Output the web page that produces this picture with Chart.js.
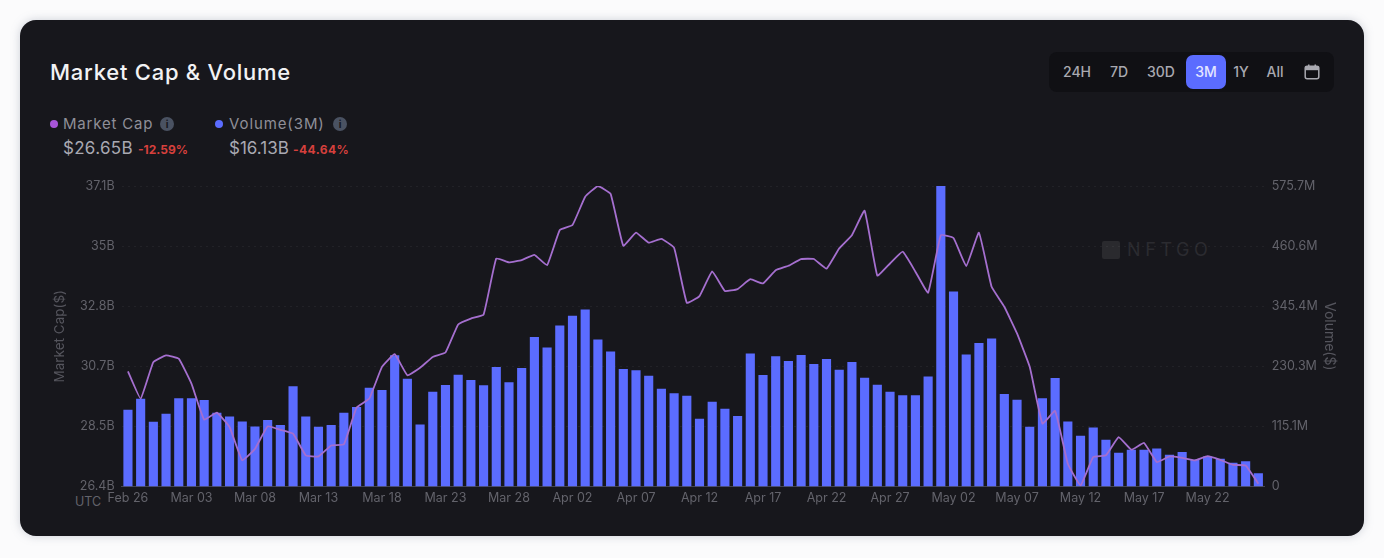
<!DOCTYPE html>
<html>
<head>
<meta charset="utf-8">
<title>Market Cap & Volume</title>
<script src="https://cdn.jsdelivr.net/npm/chart.js@4"></script>
<style>
  html, body { margin: 0; padding: 0; width: 1384px; height: 558px; overflow: hidden; background: #fbfbfc; font-family: Inter, "Noto Sans", sans-serif; }
  .card { position: absolute; left: 20px; top: 20px; width: 1344px; height: 516px; background: #17171c; border-radius: 16px; box-shadow: 0 0 10px rgba(120,130,150,.35); }
  .txt { position: absolute; white-space: nowrap; line-height: 1; }
  #indexChart { position: absolute; left: 0; top: 0; }
  .range { position: absolute; left: 1049px; top: 52px; width: 285px; height: 40px; background: #101014; border-radius: 8px; }
  .active { position: absolute; left: 1186px; top: 55px; width: 40px; height: 34px; background: #5b6cff; border-radius: 7px; }
  .btn { position: absolute; top: 65px; transform: translateX(-50%); font-size: 14px; color: #a9a9b0; line-height: 1; font-weight: 500; }
  .info { position: absolute; width: 14px; height: 14px; border-radius: 50%; background: #4a5262; color: #17171c; font-size: 10px; font-weight: 700; text-align: center; line-height: 14px; }
  .dot { position: absolute; width: 8px; height: 8px; border-radius: 50%; }
</style>
</head>
<body>
<div class="card"></div>

<div class="txt" style="left:50px;top:61px;font-size:22px;letter-spacing:0.75px;font-weight:500;color:#f2f2f4">Market Cap &amp; Volume</div>

<div class="range"></div>
<div class="active"></div>
<div class="btn" style="left:1077px">24H</div>
<div class="btn" style="left:1119px">7D</div>
<div class="btn" style="left:1161px">30D</div>
<div class="btn" style="left:1206px;color:#e4e6ff">3M</div>
<div class="btn" style="left:1241px">1Y</div>
<div class="btn" style="left:1275px">All</div>
<svg style="position:absolute;left:1304px;top:64px" width="16" height="16" viewBox="0 0 16 16">
  <rect x="1.2" y="2.2" width="13.6" height="12.6" rx="2" fill="none" stroke="#a9a9b0" stroke-width="1.5"/>
  <rect x="1.2" y="2.2" width="13.6" height="4" fill="#a9a9b0"/>
  <rect x="4" y="0.5" width="1.5" height="3" fill="#a9a9b0"/>
  <rect x="10.5" y="0.5" width="1.5" height="3" fill="#a9a9b0"/>
</svg>

<div class="dot" style="left:50px;top:120px;background:#a855d8"></div>
<div class="txt" style="left:63px;top:116px;font-size:15px;letter-spacing:0.8px;color:#8f8f98">Market Cap</div>
<div class="info" style="left:160px;top:117px">i</div>
<div class="txt" style="left:63px;top:140px;font-size:17px;letter-spacing:0.3px;color:#a9a9b2">$26.65B</div>
<div class="txt" style="left:138px;top:144px;font-size:12px;font-weight:700;color:#d6403c">-12.59%</div>

<div class="dot" style="left:215px;top:120px;background:#5b6cff"></div>
<div class="txt" style="left:229px;top:116px;font-size:15px;letter-spacing:0.9px;color:#8f8f98">Volume(3M)</div>
<div class="info" style="left:333px;top:117px">i</div>
<div class="txt" style="left:229px;top:140px;font-size:17px;color:#a9a9b2">$16.13B</div>
<div class="txt" style="left:293px;top:144px;font-size:12px;font-weight:700;letter-spacing:0.4px;color:#d6403c">-44.64%</div>

<div style="position:absolute;left:1102px;top:241px;width:18px;height:18px;background:#2a2a2e;border-radius:2px"></div>
<div class="txt" style="left:1127px;top:241px;font-size:18px;letter-spacing:4.6px;color:#2b2b30">NFTGO</div>

<div class="txt" style="left:75px;top:496px;font-size:12.5px;color:#63636b">UTC</div>

<canvas id="indexChart" width="1384" height="558"></canvas>

<script>
// ============================
// data
// ============================
const dates = [
  "Feb 26", "Feb 27", "Feb 28", "Mar 01", "Mar 02", "Mar 03", "Mar 04", "Mar 05", "Mar 06", "Mar 07",
  "Mar 08", "Mar 09", "Mar 10", "Mar 11", "Mar 12", "Mar 13", "Mar 14", "Mar 15", "Mar 16", "Mar 17",
  "Mar 18", "Mar 19", "Mar 20", "Mar 21", "Mar 22", "Mar 23", "Mar 24", "Mar 25", "Mar 26", "Mar 27",
  "Mar 28", "Mar 29", "Mar 30", "Mar 31", "Apr 01", "Apr 02", "Apr 03", "Apr 04", "Apr 05", "Apr 06",
  "Apr 07", "Apr 08", "Apr 09", "Apr 10", "Apr 11", "Apr 12", "Apr 13", "Apr 14", "Apr 15", "Apr 16",
  "Apr 17", "Apr 18", "Apr 19", "Apr 20", "Apr 21", "Apr 22", "Apr 23", "Apr 24", "Apr 25", "Apr 26",
  "Apr 27", "Apr 28", "Apr 29", "Apr 30", "May 01", "May 02", "May 03", "May 04", "May 05", "May 06",
  "May 07", "May 08", "May 09", "May 10", "May 11", "May 12", "May 13", "May 14", "May 15", "May 16",
  "May 17", "May 18", "May 19", "May 20", "May 21", "May 22", "May 23", "May 24", "May 25", "May 26"
];

// billions
const marketCap = [
  30.50, 29.53, 30.83, 31.07, 30.95, 30.06, 28.78, 29.03, 28.52, 27.33,
  27.74, 28.54, 28.42, 28.28, 27.51, 27.47, 27.86, 27.90, 29.21, 29.53,
  30.66, 31.11, 30.36, 30.63, 31.01, 31.17, 32.17, 32.38, 32.52, 34.52,
  34.38, 34.46, 34.65, 34.28, 35.53, 35.71, 36.72, 37.10, 36.82, 34.97,
  35.44, 35.08, 35.22, 34.90, 32.94, 33.18, 34.06, 33.36, 33.43, 33.78,
  33.63, 34.10, 34.26, 34.50, 34.50, 34.16, 34.88, 35.35, 36.22, 33.91,
  34.34, 34.76, 34.05, 33.30, 35.35, 35.25, 34.25, 35.44, 33.51, 32.80,
  31.85, 30.66, 28.64, 29.09, 27.21, 26.44, 27.45, 27.51, 28.16, 27.71,
  27.95, 27.27, 27.47, 27.42, 27.33, 27.48, 27.35, 27.17, 27.15, 26.50
];

// millions
const volume = [
  147.1, 168.2, 124.1, 139.5, 168.9, 168.9, 165.7, 141.4, 134.3, 124.7,
  115.1, 127.3, 117.7, 191.9, 134.3, 114.5, 117.7, 141.4, 152.2, 189.4,
  184.9, 251.4, 206.6, 119.0, 181.7, 194.5, 214.3, 204.1, 193.8, 229.0,
  199.6, 227.1, 286.6, 266.1, 308.3, 326.9, 339.0, 281.5, 258.4, 225.2,
  222.6, 212.4, 187.4, 178.5, 174.0, 129.9, 162.5, 149.1, 135.0, 254.6,
  213.7, 249.5, 240.5, 252.0, 234.8, 244.4, 223.9, 238.6, 208.5, 195.1,
  181.7, 174.6, 174.6, 210.5, 575.7, 373.6, 252.7, 275.1, 283.4, 177.2,
  166.3, 114.5, 168.9, 207.9, 124.7, 97.2, 113.2, 89.6, 64.6, 70.4,
  70.4, 72.9, 60.8, 65.9, 51.2, 57.6, 53.1, 45.4, 48.6, 25.6
];

const capTicks = [26.4, 28.54, 30.68, 32.82, 34.96, 37.1];
const capTickLabels = ["26.4B", "28.5B", "30.7B", "32.8B", "35B", "37.1B"];
const volumeTicks = [0, 115.14, 230.28, 345.42, 460.56, 575.7];
const volumeTickLabels = ["0", "115.1M", "230.3M", "345.4M", "460.6M", "575.7M"];

// ============================
// drawing
// ============================
const tickColor = "#63636b";
const tickFont = { family: "Inter", size: 12.5 };

new Chart(document.getElementById("indexChart"), {
  type: "bar",
  data: {
    labels: dates,
    datasets: [
      {
        type: "line",
        label: "Market Cap",
        data: marketCap,
        yAxisID: "cap",
        borderColor: "#a56fcf",
        borderWidth: 1.8,
        pointRadius: 0,
        tension: 0.1,
        order: 1
      },
      {
        label: "Volume(3M)",
        data: volume,
        yAxisID: "vol",
        backgroundColor: "#5b6cff",
        categoryPercentage: 1,
        barPercentage: 0.72,
        order: 2
      }
    ]
  },
  options: {
    responsive: false,
    animation: false,
    layout: { padding: { top: 186, left: 0, right: 0, bottom: 0 } },
    plugins: { legend: { display: false }, tooltip: { enabled: false } },
    scales: {
      x: {
        grid: { display: false, drawTicks: false },
        border: { color: "#45454d" },
        ticks: {
          color: tickColor,
          font: tickFont,
          padding: 4,
          autoSkip: false,
          maxRotation: 0,
          callback: (v, i) => (i % 5 === 0 ? dates[i] : "")
        },
        afterFit: s => { s.height = 71.5; }
      },
      cap: {
        position: "left",
        min: 26.4,
        max: 37.1,
        afterBuildTicks: s => { s.ticks = capTicks.map(value => ({ value })); },
        grid: { color: "rgba(255,255,255,0.05)", drawTicks: false },
        border: { display: false, dash: [2, 4] },
        ticks: {
          color: tickColor,
          font: tickFont,
          padding: 7,
          callback: (v, i) => capTickLabels[i]
        },
        title: {
          display: true,
          text: "Market Cap($)",
          color: "#55555d",
          font: { family: "Inter", size: 13.5 },
          padding: { top: 52, bottom: 0 }
        },
        afterFit: s => { s.width = 121.6; }
      },
      vol: {
        position: "right",
        min: 0,
        max: 575.7,
        afterBuildTicks: s => { s.ticks = volumeTicks.map(value => ({ value })); },
        grid: { display: false, drawTicks: false },
        border: { display: false },
        ticks: {
          color: tickColor,
          font: tickFont,
          padding: 7,
          callback: (v, i) => volumeTickLabels[i]
        },
        title: {
          display: true,
          text: "Volume($)",
          color: "#55555d",
          font: { family: "Inter", size: 14 },
          padding: { top: 46, bottom: 0 }
        },
        afterFit: s => { s.width = 119.3; }
      }
    }
  }
});
</script>
</body>
</html>
